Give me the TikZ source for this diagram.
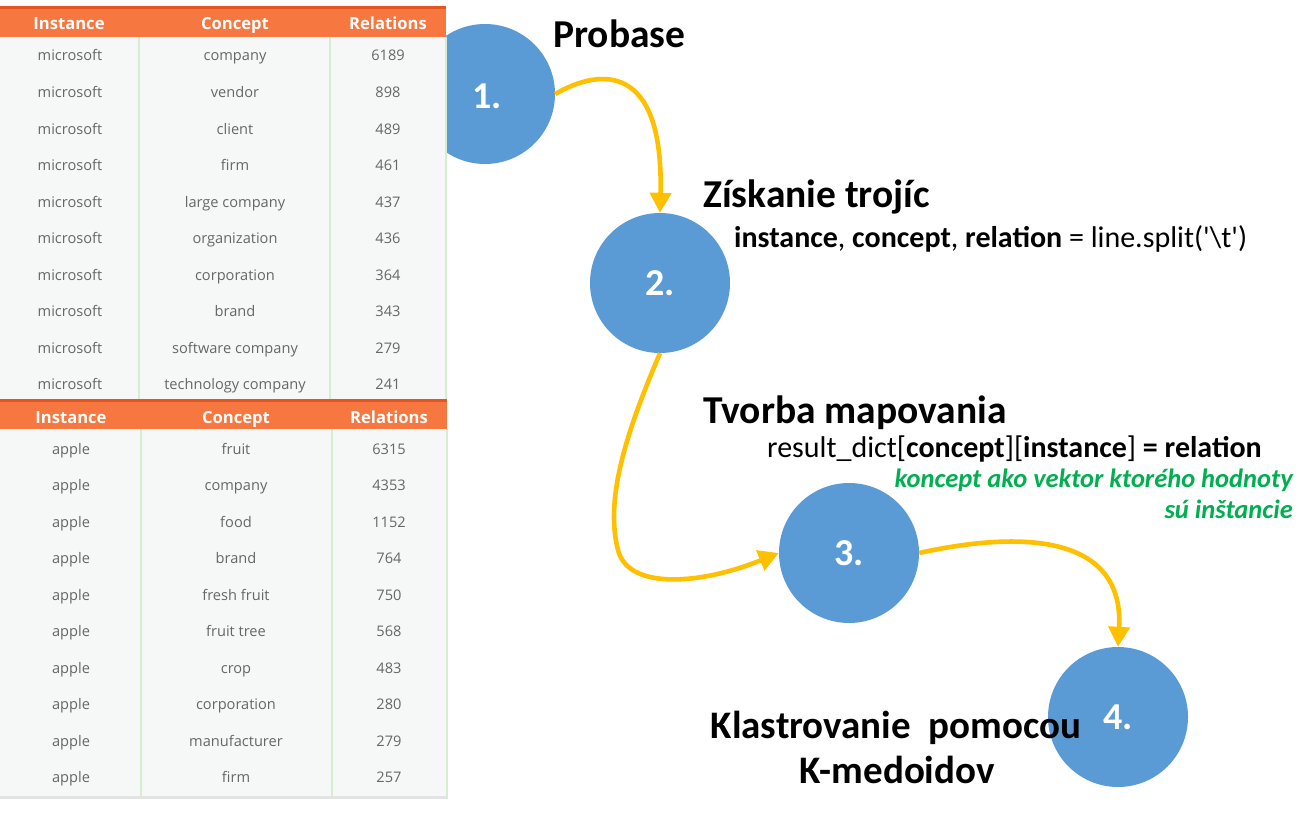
\documentclass[tikz,border=0pt]{standalone}
\usepackage{fontspec}
\setmainfont{Carlito}
\newfontfamily\rawfont[Ligatures=TeXOff]{Carlito}
\newfontfamily\tablefont{Open Sans}
\usetikzlibrary{arrows.meta}
\definecolor{cblue}{HTML}{5B9BD5}
\definecolor{carrow}{HTML}{FFC000}
\definecolor{hdr}{HTML}{F77740}
\definecolor{hdrdark}{HTML}{E8541E}
\definecolor{bodybg}{HTML}{F6F8F7}
\definecolor{sepcol}{HTML}{D6EDD0}
\definecolor{celltxt}{HTML}{666666}
\definecolor{kgreen}{HTML}{00B050}
\definecolor{bordergray}{HTML}{E2E4E3}
\begin{document}
\begin{tikzpicture}[x=1pt,y=-1pt,
  stage/.style={circle, fill=cblue, minimum size=140pt, inner sep=0pt, text=white, font=\fontsize{38}{40}\selectfont\bfseries},
  titletxt/.style={anchor=base west, font=\fontsize{39.5}{44}\selectfont\bfseries, inner sep=0pt},
  codetxt/.style={anchor=base west, font=\fontsize{30}{34}\selectfont, inner sep=0pt},
  notetxt/.style={anchor=base east, font=\fontsize{26.5}{30}\selectfont\bfseries\itshape, text=kgreen, inner sep=0pt},
  flow/.style={draw=carrow, line width=4.6pt, -{Triangle[length=20pt,width=21pt]}},
  hcell/.style={anchor=base, font=\tablefont\fontsize{16.6}{19}\selectfont\bfseries, text=white, inner sep=0pt},
  cell/.style={anchor=base, font=\tablefont\fontsize{14.6}{16}\selectfont, text=celltxt, inner sep=0pt},
  sepline/.style={draw=sepcol, line width=1.5pt}
]
\useasboundingbox (0,0) rectangle (1312,818);
\fill[white] (0,0) rectangle (1312,818);

% circle 1 (partly hidden by the table)
\node[stage] (c1) at (485,94) {};
\node[stage, fill=none] (c1l) at (487,96) {1.};

% ---- table 1
\fill[bodybg] (0,37) rectangle (446,400);
\fill[hdr] (0,8) rectangle (446,37);
\fill[hdrdark] (0,6) rectangle (446,9);
\draw[sepline] (139,37) -- (139,400);
\draw[sepline] (330,37) -- (330,400);
\draw[sepline] (446,37) -- (446,400);
\node[hcell] (h1a) at (69,30) {Instance};
\node[hcell] (h1b) at (235,30) {Concept};
\node[hcell] (h1c) at (388,30) {Relations};
\foreach \i/\c/\r in {0/company/6189,1/vendor/898,2/client/489,3/firm/461,4/large company/437,5/organization/436,6/corporation/364,7/brand/343,8/software company/279,9/technology company/241}{
  \node[cell] (ma\i) at (70,61+36.55*\i) {microsoft};
  \node[cell] (mb\i) at (235,61+36.55*\i) {\c};
  \node[cell] (mc\i) at (388,61+36.55*\i) {\r};
}

% ---- table 2
\fill[bodybg] (0,429) rectangle (447,796);
\fill[hdr] (0,401) rectangle (447,429);
\fill[hdrdark] (0,399) rectangle (447,402);
\fill[bordergray] (0,796) rectangle (448,799);
\draw[sepline] (141,429) -- (141,796);
\draw[sepline] (332,429) -- (332,796);
\draw[sepline] (447,429) -- (447,796);
\node[hcell] (h2a) at (71,423) {Instance};
\node[hcell] (h2b) at (236,423) {Concept};
\node[hcell] (h2c) at (389,423) {Relations};
\foreach \i/\c/\r in {0/fruit/6315,1/company/4353,2/food/1152,3/brand/764,4/fresh fruit/750,5/fruit tree/568,6/crop/483,7/corporation/280,8/manufacturer/279,9/firm/257}{
  \node[cell] (aa\i) at (71,454+36.55*\i) {apple};
  \node[cell] (ab\i) at (236,454+36.55*\i) {\c};
  \node[cell] (ac\i) at (389,454+36.55*\i) {\r};
}

% ---- stages
\node[stage] (c2) at (660,283) {2.};
\node[stage] (c3) at (849,553) {3.};
\node[stage] (c4) at (1118,717) {4.};

% ---- texts
\node[titletxt] (tp) at (553,48) {Probase};
\node[titletxt] (tz) at (703,208) {Získanie trojíc};
\node[codetxt] (cz) at (734,248) {\textbf{instance}, \textbf{concept}, \textbf{relation} = line.split({\rawfont'}\textbackslash t{\rawfont'})};
\node[titletxt] (tt) at (703,423) {Tvorba mapovania};
\node[codetxt] (ct) at (767,457) {result\_dict[\textbf{concept}][\textbf{instance}] \textbf{= relation}};
\node[notetxt] (n1) at (1293,487) {koncept ako vektor ktorého hodnoty};
\node[notetxt] (n2) at (1293,518) {sú inštancie};
\node[anchor=base, font=\fontsize{39}{44}\selectfont\bfseries, inner sep=0pt] (tk1) at (896,738) {Klastrovanie\ \ pomocou};
\node[anchor=base, font=\fontsize{39}{44}\selectfont\bfseries, inner sep=0pt] (tk2) at (897,783) {K-medoidov};

% ---- arrows
\draw[flow] (c1.east) .. controls (600,68) and (664,62) .. (c2.north);
\draw[flow] (c2.south) .. controls (625,435) and (605,500) .. (618,550)
            .. controls (628,590) and (700,585) .. (c3.west);
\draw[flow] (c3.east) .. controls (1000,535) and (1125,525) .. (c4.north);
\end{tikzpicture}
\end{document}
